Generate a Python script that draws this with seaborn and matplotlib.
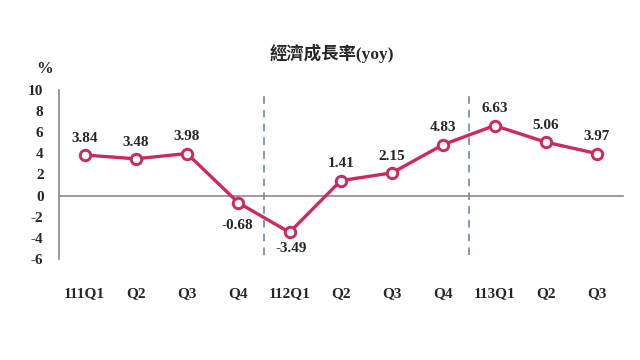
"""
經濟成長率(yoy) line chart
"""

import numpy as np
import pandas as pd
import matplotlib
matplotlib.use("Agg")
import matplotlib.pyplot as plt
import matplotlib.transforms as mtransforms
import seaborn as sns

# quarters and yoy growth (%)
quarters = ["111Q1", "Q2", "Q3", "Q4", "112Q1", "Q2", "Q3", "Q4", "113Q1", "Q2", "Q3"]
growth = [3.84, 3.48, 3.98, -0.68, -3.49, 1.41, 2.15, 4.83, 6.63, 5.06, 3.97]
year_breaks = [3.5, 7.5]
y_ticks = [10, 8, 6, 4, 2, 0, -2, -4, -6]

line_color = "#cc2a5c"
axis_color = "#8a8a8a"
dash_color = "#5b80a6"

sns.set_style("white")
plt.rcParams["font.family"] = ["Liberation Serif", "Noto Sans CJK TC", "DejaVu Sans"]

df = pd.DataFrame({"idx": np.arange(len(quarters)), "growth": growth})

fig = plt.figure(figsize=(6.4, 3.6), dpi=100)
ax = fig.add_axes([0.092, 0.281, 0.881, 0.469])

sns.lineplot(data=df, x="idx", y="growth", ax=ax, color=line_color, linewidth=2.4,
             marker="o", markersize=7.5, markerfacecolor="white",
             markeredgecolor=line_color, markeredgewidth=2.1, zorder=5)

ax.set_xlim(-0.5, len(quarters) - 0.5)
ax.set_ylim(-6, 10)

# year separators
for xb in year_breaks:
    ax.axvline(xb, ymin=0.02, ymax=0.98, color=dash_color, linestyle=(0, (5, 4)),
               linewidth=1.1, zorder=2)

# spines
for s in ["top", "right"]:
    ax.spines[s].set_visible(False)
ax.spines["left"].set_color(axis_color)
ax.spines["left"].set_linewidth(1.2)
ax.spines["bottom"].set_position(("data", 0))
ax.spines["bottom"].set_color(axis_color)
ax.spines["bottom"].set_linewidth(1.2)

# ticks: boundaries on the zero line, pointing up
ax.set_xticks(np.arange(-0.5, len(quarters), 1.0))
ax.set_xticklabels([])
ax.tick_params(axis="x", direction="in", length=5, color=axis_color, width=1.2)
ax.set_yticks(y_ticks)
ax.set_yticklabels([str(t) for t in y_ticks], fontsize=11, fontweight="bold")
ax.tick_params(axis="y", direction="out", length=3, color=axis_color, width=1.2, pad=8)
ax.set_xlabel("")
ax.set_ylabel("")

# category labels below the plot
trans = mtransforms.blended_transform_factory(ax.transData, ax.transAxes)
for i, q in enumerate(quarters):
    ax.text(i, -0.207, q, transform=trans, ha="center", va="center",
            fontsize=11, fontweight="bold")

# value labels
for i, v in enumerate(growth):
    if i == 3:
        off = (-1, -16.5)
    elif i == 4:
        off = (1, -11.5)
    else:
        off = (0, 12)
    ax.annotate(f"{v:.2f}", (i, v), xytext=off, textcoords="offset points",
                ha="center", va="center", fontsize=11, fontweight="bold")

fig.text(0.070, 0.808, "%", ha="center", va="center", fontsize=12, fontweight="bold")
fig.text(0.518, 0.851, "經濟成長率(yoy)", ha="center", va="center", fontsize=12.5,
         fontweight="bold")

fig.savefig("out.png", dpi=100)
plt.close(fig)
